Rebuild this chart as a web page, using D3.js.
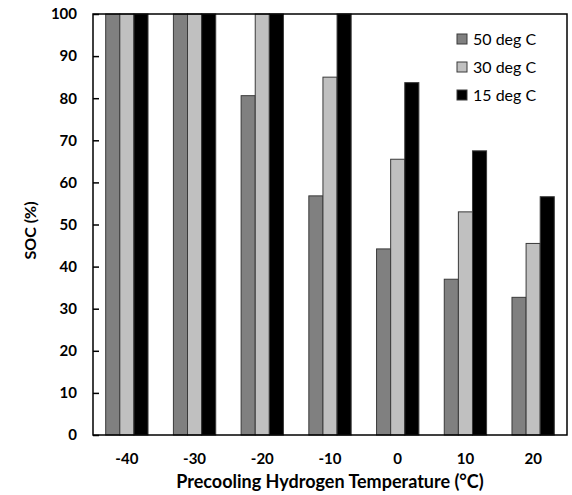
<!DOCTYPE html>
<html>
<head>
<meta charset="utf-8">
<script src="https://cdn.jsdelivr.net/npm/d3@7"></script>
<style>
  html, body { margin: 0; padding: 0; background: #fff; }
  svg { display: block; }
  text { font-family: Lato, "Open Sans", sans-serif; fill: #000; }
</style>
</head>
<body>
<svg id="chart" width="572" height="495"></svg>
<script>
// Precooling hydrogen temperature (°C)
const categories = ["-40", "-30", "-20", "-10", "0", "10", "20"];
// State of charge (%) for each ambient temperature
const seriesNames = ["50 deg C", "30 deg C", "15 deg C"];
const soc50 = [100, 100, 80.6, 56.8, 44.2, 37.0, 32.7];
const soc30 = [100, 100, 100, 85.0, 65.5, 53.0, 45.5];
const soc15 = [100, 100, 100, 100, 83.7, 67.5, 56.6];
const seriesColors = ["#808080", "#c0c0c0", "#000000"];
const yTicks = [0, 10, 20, 30, 40, 50, 60, 70, 80, 90, 100];

const series = [soc50, soc30, soc15];

const margin = { left: 93, right: 5, top: 14, bottom: 60 };
const W = 572, H = 495;
const svg = d3.select("#chart");

const x = d3.scaleBand().domain(categories)
  .range([margin.left, W - margin.right]).paddingInner(0).paddingOuter(0);
const xInner = d3.scaleBand().domain(seriesNames)
  .range([0, x.bandwidth()]).paddingOuter(0.9).paddingInner(0);
const y = d3.scaleLinear().domain([0, 100]).range([H - margin.bottom, margin.top]);

// bars
const g = svg.append("g");
categories.forEach((c, i) => {
  series.forEach((vals, s) => {
    g.append("rect")
      .attr("x", x(c) + xInner(seriesNames[s]))
      .attr("y", y(vals[i]))
      .attr("width", xInner.bandwidth())
      .attr("height", y(0) - y(vals[i]))
      .attr("fill", seriesColors[s])
      .attr("stroke", "#3a3a3a")
      .attr("stroke-width", 1);
  });
});

// y axis with inward ticks
const yAxis = svg.append("g")
  .attr("transform", `translate(${margin.left},0)`)
  .call(d3.axisLeft(y).tickValues(yTicks).tickSizeInner(-6).tickSizeOuter(0).tickPadding(16));
yAxis.select(".domain").remove();
yAxis.selectAll("line").attr("stroke", "#000").attr("stroke-width", 1.5);
yAxis.selectAll("text")
  .style("font-size", "15px").style("font-weight", "bold")
  .attr("font-family", "Lato, sans-serif");

// x axis labels
const xAxis = svg.append("g")
  .attr("transform", `translate(0,${y(0)})`)
  .call(d3.axisBottom(x).tickSize(0).tickPadding(18));
xAxis.select(".domain").remove();
xAxis.selectAll("text")
  .style("font-size", "15px").style("font-weight", "bold");

// plot frame
svg.append("rect")
  .attr("x", margin.left).attr("y", margin.top)
  .attr("width", W - margin.right - margin.left)
  .attr("height", y(0) - margin.top)
  .attr("fill", "none").attr("stroke", "#000").attr("stroke-width", 1.5);

// axis titles
svg.append("text")
  .attr("x", (margin.left + W - margin.right) / 2)
  .attr("y", 488)
  .attr("text-anchor", "middle")
  .style("font-size", "18px").style("font-weight", "bold")
  .text("Precooling Hydrogen Temperature (°C)");

svg.append("text")
  .attr("transform", `translate(36,${(margin.top + y(0)) / 2 + 6}) rotate(-90)`)
  .attr("text-anchor", "middle")
  .style("font-size", "16px").style("font-weight", "bold")
  .text("SOC (%)");

// legend
const legend = svg.append("g").attr("transform", "translate(457,39)");
seriesNames.forEach((name, i) => {
  const row = legend.append("g").attr("transform", `translate(0,${i * 28})`);
  row.append("rect")
    .attr("x", 0).attr("y", -5).attr("width", 10).attr("height", 10)
    .attr("fill", seriesColors[i]).attr("stroke", "#3a3a3a").attr("stroke-width", 1);
  row.append("text")
    .attr("x", 16).attr("y", 0).attr("dy", "0.35em")
    .style("font-size", "16px")
    .text(name);
});
</script>
</body>
</html>
